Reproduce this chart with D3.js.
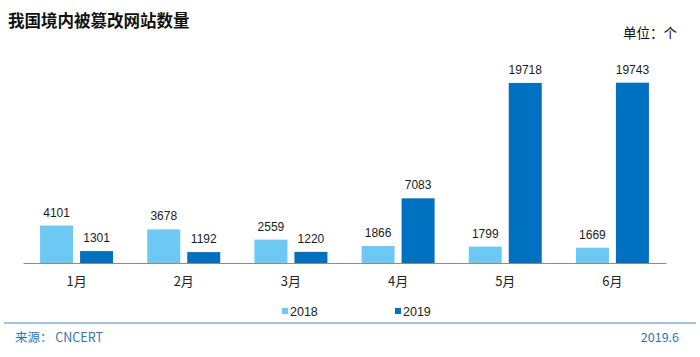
<!DOCTYPE html>
<html><head><meta charset="utf-8">
<script src="https://cdn.jsdelivr.net/npm/d3@7"></script>
<style>body{margin:0;background:#fff}svg{display:block}</style>
</head><body>
<svg id="c" width="700" height="357"></svg>
<script>
const months = ["1月","2月","3月","4月","5月","6月"];
const seriesNames = ["2018","2019"];
const values2018 = [4101,3678,2559,1866,1799,1669];
const values2019 = [1301,1192,1220,7083,19718,19743];
const colors = ["#6DC8F3","#0070C0"];

const svg = d3.select("#c");
const base = 263, left = 23, right = 666;
const x = d3.scaleBand().domain(months).range([left,right]).paddingInner(0).paddingOuter(0);
const y = d3.scaleLinear().domain([0,19743]).range([base,82.7]);
const barW = 33, gap = 7;
const data = [values2018, values2019];

data.forEach((vals,si)=>{
  const g = svg.append("g");
  g.selectAll("rect").data(vals).join("rect")
    .attr("x",(d,i)=>x(months[i])+x.bandwidth()/2 - (barW*2+gap)/2 + si*(barW+gap))
    .attr("y",d=>y(d)).attr("width",barW).attr("height",d=>base-y(d))
    .attr("fill",colors[si]);
  g.selectAll("text").data(vals).join("text")
    .attr("x",(d,i)=>x(months[i])+x.bandwidth()/2 - (barW*2+gap)/2 + si*(barW+gap)+barW/2)
    .attr("y",d=>y(d)-9).attr("text-anchor","middle")
    .attr("font-family","Liberation Sans, Arial, sans-serif").attr("font-size",12).attr("fill","#1a1a1a")
    .text(d=>d);
});

const ax = svg.append("g").attr("transform",`translate(0,${base})`)
  .call(d3.axisBottom(x).tickSize(0).tickPadding(14));
ax.select(".domain").attr("stroke","#8c8c8c").attr("stroke-width",1.2);
ax.selectAll("text").attr("font-family","Noto Sans CJK SC, sans-serif").attr("font-size",13).attr("fill","#222");

svg.append("text").attr("x",8).attr("y",27).attr("font-family","Noto Sans CJK SC, sans-serif")
  .attr("font-weight","bold").attr("font-size",16.5).attr("fill","#111").text("我国境内被篡改网站数量");
svg.append("text").attr("x",677).attr("y",38).attr("text-anchor","end").attr("font-family","Noto Sans CJK SC, sans-serif")
  .attr("font-size",13.5).attr("fill","#111").text("单位：个");

const leg = svg.append("g");
const legX = [282,395];
seriesNames.forEach((n,i)=>{
  leg.append("rect").attr("x",legX[i]).attr("y",308).attr("width",6).attr("height",6).attr("fill",colors[i]);
  leg.append("text").attr("x",legX[i]+8).attr("y",316).attr("font-family","Liberation Sans, Arial, sans-serif")
    .attr("font-size",12.5).attr("fill","#222").text(n);
});

svg.append("line").attr("x1",4).attr("x2",696).attr("y1",323).attr("y2",323).attr("stroke","#7FAEDD").attr("stroke-width",1.5);
svg.append("text").attr("x",15).attr("y",342).attr("font-family","Noto Sans CJK SC, sans-serif")
  .attr("font-size",12.5).attr("fill","#2E75B6").text("来源： CNCERT");
svg.append("text").attr("x",679).attr("y",342).attr("text-anchor","end").attr("font-family","Noto Sans CJK SC, sans-serif")
  .attr("font-size",12.5).attr("fill","#2E75B6").text("2019.6");
</script>
</body></html>
